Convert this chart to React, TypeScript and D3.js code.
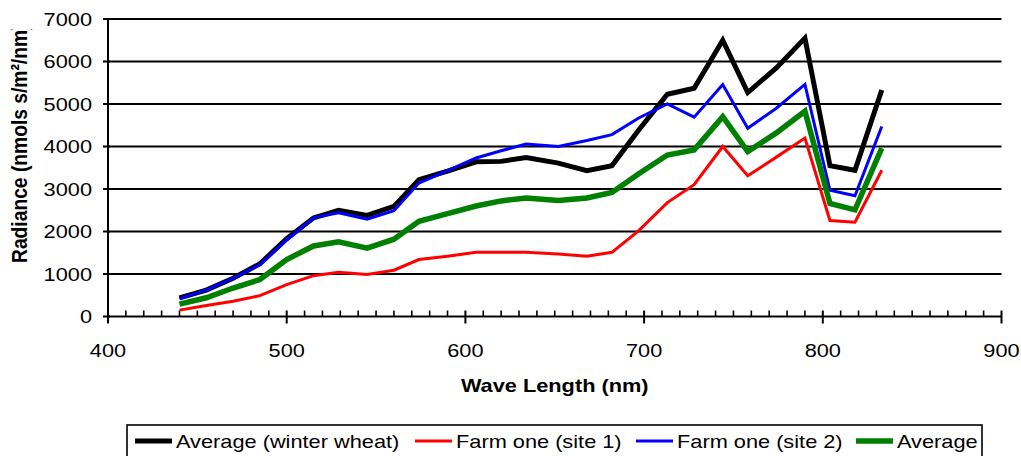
import React, { useEffect, useRef } from 'react';
import * as d3 from 'd3';

// wavelengths (nm)
const wavelengths = [440, 455, 470, 485, 500, 515, 529, 545, 560, 574, 590, 606, 620, 634, 652, 668, 682, 697, 713, 728, 744, 758, 774, 790, 804, 818, 833];

const winterWheat = [440, 620, 900, 1240, 1830, 2320, 2500, 2380, 2590, 3220, 3420, 3640, 3650, 3740, 3610, 3430, 3550, 4390, 5230, 5370, 6500, 5270, 5850, 6550, 3550, 3440, 5330];
const farmSite1 = [150, 260, 360, 490, 750, 960, 1040, 990, 1090, 1340, 1420, 1510, 1510, 1510, 1470, 1420, 1510, 2020, 2680, 3100, 4000, 3310, 3750, 4200, 2260, 2220, 3440];
const farmSite2 = [420, 620, 900, 1220, 1800, 2320, 2440, 2290, 2490, 3140, 3430, 3730, 3900, 4060, 4000, 4140, 4280, 4670, 5000, 4690, 5460, 4430, 4900, 5460, 2970, 2840, 4470];
const average = [290, 440, 670, 870, 1340, 1660, 1760, 1610, 1820, 2240, 2420, 2600, 2720, 2790, 2730, 2790, 2920, 3360, 3800, 3920, 4700, 3880, 4320, 4830, 2660, 2510, 3960];

const seriesNames = ['Average (winter wheat)', 'Farm one (site 1)', 'Farm one (site 2)', 'Average'];
const yTicks = [0, 1000, 2000, 3000, 4000, 5000, 6000, 7000];
const xTicks = [400, 500, 600, 700, 800, 900];

const width = 1021;
const height = 456;
const font = '"Liberation Sans", Arial, sans-serif';
const sx = 1.17; // glyphs in the picture are a bit wider than Arial

export default function App() {

    const svgRef = useRef<SVGSVGElement>(null);

    useEffect(() => {

        const svg = d3.select(svgRef.current)
            .attr('width', width)
            .attr('height', height);

        svg.selectAll('*').remove();

        const x = d3.scaleLinear().domain([400, 900]).range([108, 1001.5]);
        const y = d3.scaleLinear().domain([0, 7000]).range([316.5, 19]);

        const series = [
            { name: seriesNames[0], values: winterWheat, color: '#000000', w: 5 },
            { name: seriesNames[1], values: farmSite1, color: '#FF0000', w: 3 },
            { name: seriesNames[2], values: farmSite2, color: '#0000FF', w: 3 },
            { name: seriesNames[3], values: average, color: '#008000', w: 5.5 },
        ];

        const label = (g: any, txt: string, tx: number, ty: number, anchor: string, bold = false, size = 18.6) =>
            g.append('text')
                .attr('transform', `translate(${tx},${ty}) scale(${sx},1)`)
                .attr('text-anchor', anchor)
                .attr('font-family', font)
                .attr('font-size', size)
                .attr('font-weight', bold ? 'bold' : 'normal')
                .attr('fill', '#000')
                .text(txt);

        // gridlines
        svg.append('g').selectAll('line')
            .data(yTicks.filter(d => d > 0))
            .join('line')
            .attr('x1', x(400)).attr('x2', x(900))
            .attr('y1', d => y(d)).attr('y2', d => y(d))
            .attr('stroke', '#000').attr('stroke-width', 2);

        // y axis
        const yAxisG = svg.append('g');
        yAxisG.append('line')
            .attr('x1', x(400)).attr('x2', x(400))
            .attr('y1', y(0)).attr('y2', y(7000))
            .attr('stroke', '#000').attr('stroke-width', 2);
        yAxisG.selectAll('line.tick')
            .data(yTicks)
            .join('line')
            .attr('class', 'tick')
            .attr('x1', x(400) - 5).attr('x2', x(400) + 2)
            .attr('y1', d => y(d)).attr('y2', d => y(d))
            .attr('stroke', '#000').attr('stroke-width', 2);
        yTicks.forEach(t => label(yAxisG, String(t), 92, y(t) + 6.6, 'end'));

        // x axis
        const xAxisG = svg.append('g');
        xAxisG.append('line')
            .attr('x1', x(400)).attr('x2', x(900))
            .attr('y1', y(0)).attr('y2', y(0))
            .attr('stroke', '#000').attr('stroke-width', 2);
        const minor = d3.range(400, 901, 10).filter(d => d % 100 !== 0);
        xAxisG.selectAll('line.minor')
            .data(minor)
            .join('line')
            .attr('class', 'minor')
            .attr('x1', d => x(d)).attr('x2', d => x(d))
            .attr('y1', y(0) - 6).attr('y2', y(0))
            .attr('stroke', '#000').attr('stroke-width', 1.6);
        xAxisG.selectAll('line.major')
            .data(xTicks)
            .join('line')
            .attr('class', 'major')
            .attr('x1', d => x(d)).attr('x2', d => x(d))
            .attr('y1', y(0) - 6).attr('y2', y(0) + 7)
            .attr('stroke', '#000').attr('stroke-width', 2);
        xTicks.forEach(t => label(xAxisG, String(t), x(t), 357, 'middle'));

        // titles
        label(svg, 'Wave Length (nm)', (x(400) + x(900)) / 2, 392, 'middle', true);

        // the y title is cut off at the top in the original
        const defs = svg.append('defs');
        defs.append('clipPath').attr('id', 'ytitle-clip')
            .append('rect').attr('x', 0).attr('y', 29).attr('width', 60).attr('height', 300);
        svg.append('g').attr('clip-path', 'url(#ytitle-clip)')
            .append('text')
            .attr('transform', `translate(27,263) rotate(-90) scale(1,${sx})`)
            .attr('text-anchor', 'start')
            .attr('font-family', font)
            .attr('font-size', 19.25)
            .attr('font-weight', 'bold')
            .text('Radiance (nmols s/m²/nm)');

        // lines
        const line = d3.line<number>()
            .x((d, i) => x(wavelengths[i]))
            .y(d => y(d));

        svg.append('g').selectAll('path')
            .data(series)
            .join('path')
            .attr('d', d => line(d.values))
            .attr('fill', 'none')
            .attr('stroke', d => d.color)
            .attr('stroke-width', d => d.w)
            .attr('stroke-linejoin', 'miter');

        // legend
        const lg = svg.append('g');
        lg.append('rect')
            .attr('x', 127).attr('y', 425)
            .attr('width', 855).attr('height', 45)
            .attr('fill', 'none').attr('stroke', '#000').attr('stroke-width', 1.6);
        const itemX = [135, 415, 636, 856];
        series.forEach((s, i) => {
            lg.append('line')
                .attr('x1', itemX[i]).attr('x2', itemX[i] + 37)
                .attr('y1', 441).attr('y2', 441)
                .attr('stroke', s.color).attr('stroke-width', s.w);
            label(lg, s.name, itemX[i] + 41, 448, 'start');
        });

    }, []);

    return (
        <div style={{ position: 'absolute', left: 0, top: 0, background: '#fff' }}>
            <svg ref={svgRef} style={{ display: 'block' }}></svg>
        </div>
    );
}
